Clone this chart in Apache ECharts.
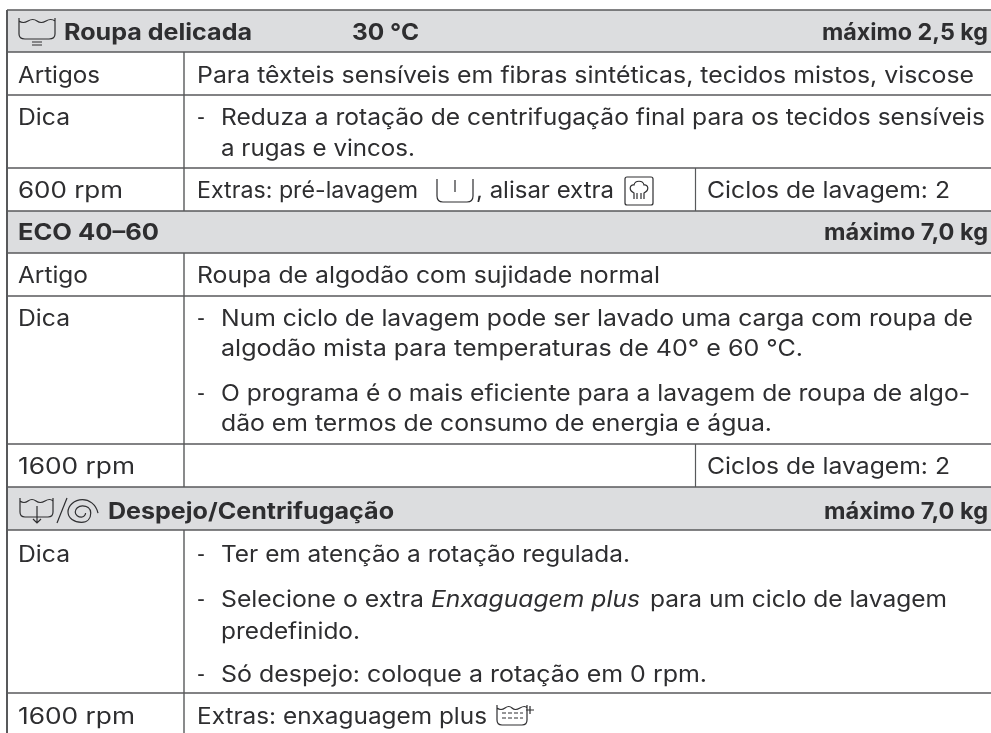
<!DOCTYPE html>
<html>
<head>
<meta charset="utf-8">
<style>html,body{margin:0;padding:0;background:#fff}#chart{width:991px;height:733px}</style>
<script src="https://cdn.jsdelivr.net/npm/echarts@6/dist/echarts.min.js"></script>
</head>
<body>
<div id="chart"></div>
<script>
// table content
var sectionTitles = ['Roupa delicada', 'ECO 40–60', 'Despejo/Centrifugação'];
var sectionTemps = ['30 °C', '', ''];
var sectionLoads = ['máximo 2,5 kg', 'máximo 7,0 kg', 'máximo 7,0 kg'];
var rowLabels = ['Artigos', 'Dica', '600 rpm', 'Artigo', 'Dica', '1600 rpm', 'Dica', '1600 rpm'];
var wideCells = [
  'Para têxteis sensíveis em fibras sintéticas, tecidos mistos, viscose',
  'Roupa de algodão com sujidade normal'
];
var extrasCells = ['Extras: pré-lavagem', ', alisar extra', 'Extras: enxaguagem plus'];
var cycleCells = ['Ciclos de lavagem: 2', 'Ciclos de lavagem: 2'];
var tipLines = [
  'Reduza a rotação de centrifugação final para os tecidos sensíveis',
  'a rugas e vincos.',
  'Num ciclo de lavagem pode ser lavado uma carga com roupa de',
  'algodão mista para temperaturas de 40° e 60 °C.',
  'O programa é o mais eficiente para a lavagem de roupa de algo-',
  'dão em termos de consumo de energia e água.',
  'Ter em atenção a rotação regulada.',
  'predefinido.',
  'Só despejo: coloque a rotação em 0 rpm.'
];
var mixedTip = ['Selecione o extra', 'Enxaguagem plus', 'para um ciclo de lavagem'];

// layout
var rowEdges = [10, 52, 95, 168, 211, 253, 296, 444, 487, 530, 693, 733];
var colEdges = [7, 184, 695.5, 991];
var sectionRows = [0, 4, 8];
var labelY = [76, 118, 191, 276, 319, 467, 555, 717];
var labelW = [82, 52, 105, 70, 52, 117, 52, 117];
var tipY = [118, 149, 319, 349, 394, 424, 555, 632, 675];
var tipW = [764, 194, 752, 582, 749, 551, 409, 139, 486];

var FONT = 'Inter';
var SIZE = 22.5;
var INK = '#2e2e30';
var RULE = '#58595b';
var BAND = '#dcdddf';

var chart = echarts.init(document.getElementById('chart'));
var ruler = document.createElement('canvas').getContext('2d');

function txt(p, s, x, y, w, o) {
  o = o || {};
  var at = p(x, y);
  var font = (o.italic ? 'italic ' : '') + (o.bold ? 'bold ' : '') + SIZE + 'px ' + FONT;
  ruler.font = font;
  return {
    type: 'text',
    x: at[0],
    y: at[1],
    scaleX: w / ruler.measureText(s).width,
    style: {
      text: s, x: 0, y: 0, fill: INK, font: font,
      textAlign: o.right ? 'right' : 'left', textVerticalAlign: 'middle'
    }
  };
}

function rule(p, x1, y1, x2, y2, w) {
  var a = p(x1, y1), b = p(x2, y2);
  return { type: 'line', shape: { x1: a[0], y1: a[1], x2: b[0], y2: b[1] }, style: { stroke: RULE, lineWidth: w } };
}

function icon(p, d, x, y, w, h) {
  var a = p(x, y);
  return {
    type: 'path',
    shape: { pathData: d, x: a[0], y: a[1], width: w, height: h, layout: 'center' },
    style: { fill: 'none', stroke: INK, lineWidth: 1.2 }
  };
}

function renderTable(params, api) {
  var p = function (x, y) { return api.coord([x, y]); };
  var kids = [];
  var r = rowEdges;
  var c = colEdges;
  sectionRows.forEach(function (i) {
    var a = p(c[0], r[i]), b = p(c[3], r[i + 1]);
    kids.push({ type: 'rect', shape: { x: a[0], y: a[1], width: b[0] - a[0], height: b[1] - a[1] }, style: { fill: BAND } });
  });
  r.forEach(function (y, i) {
    if (i < r.length - 1) kids.push(rule(p, c[0], y, c[3], y, 1.6));
  });
  kids.push(rule(p, c[0], r[0], c[0], r[11], 2));
  [[1, 2], [2, 3], [3, 4], [5, 6], [6, 7], [7, 8], [9, 10], [10, 11]].forEach(function (s) {
    kids.push(rule(p, c[1], r[s[0]], c[1], r[s[1]], 1.4));
  });
  kids.push(rule(p, c[2], r[3], c[2], r[4], 1.2));
  kids.push(rule(p, c[2], r[7], c[2], r[8], 1.2));

  // section bands
  kids.push(txt(p, sectionTitles[0], 64, 33, 188, { bold: true }));
  kids.push(txt(p, sectionTemps[0], 352, 33, 67, { bold: true }));
  kids.push(txt(p, sectionTitles[1], 18, 233, 141, { bold: true }));
  kids.push(txt(p, sectionTitles[2], 108, 512, 286, { bold: true }));
  kids.push(txt(p, sectionLoads[0], 988, 33, 166, { bold: true, right: true }));
  kids.push(txt(p, sectionLoads[1], 988, 233, 164, { bold: true, right: true }));
  kids.push(txt(p, sectionLoads[2], 988, 512, 164, { bold: true, right: true }));

  // first column
  labelY.forEach(function (y, i) {
    kids.push(txt(p, rowLabels[i], 18, y, labelW[i]));
  });

  // second column
  kids.push(txt(p, wideCells[0], 197, 76, 777));
  kids.push(txt(p, wideCells[1], 197, 276, 463));
  kids.push(txt(p, extrasCells[0], 197, 191, 221));
  kids.push(txt(p, extrasCells[1], 476, 191, 138));
  kids.push(txt(p, extrasCells[2], 197, 717, 290));
  kids.push(txt(p, cycleCells[0], 707, 191, 243));
  kids.push(txt(p, cycleCells[1], 707, 467, 243));

  [118, 319, 394, 555, 600, 675].forEach(function (y) {
    kids.push(txt(p, '-', 197, y, 8));
  });
  tipY.forEach(function (y, i) {
    kids.push(txt(p, tipLines[i], 221, y, tipW[i]));
  });
  kids.push(txt(p, mixedTip[0], 221, 600, 203));
  kids.push(txt(p, mixedTip[1], 431, 600, 209, { italic: true }));
  kids.push(txt(p, mixedTip[2], 650, 600, 297));

  // programme symbols
  kids.push(icon(p, 'M0 0V16Q0 21 6 21H30Q36 21 36 16V0M0 3Q4 6 9 3T18 3T27 3T36 3M13 24H23M13 27H23', 19, 18, 36, 27));
  kids.push(icon(p, 'M0 0V14Q0 19 5 19H28Q33 19 33 14V0M0 3Q4 6 8 3T16 3T25 3T33 3M17 8V25M13 21L17 25L21 21', 20, 498, 33, 25));
  kids.push(icon(p, 'M10 0L0 25', 57, 498, 10, 25));
  kids.push(icon(p, 'M30 15C28 6 21 2 15 2C7 2 1 8 1 14C1 20 7 24 14 24C20 24 23 20 23 15C23 10 19 8 15 8C11 8 8 11 8 14C8 17 11 19 14 19C16 19 18 17 18 15', 68, 499, 30, 24));
  kids.push(icon(p, 'M0 0V17Q0 23 6 23H30Q36 23 36 17V0M18 1V13', 437, 179, 36, 23));
  kids.push(icon(p, 'M2 0H26Q28 0 28 2V26Q28 28 26 28H2Q0 28 0 26V2Q0 0 2 0ZM9 22V16C3 13 5 7 9 8C10 3 18 3 19 8C23 7 25 13 19 16V22M12 22V16M16 22V16', 625, 177, 28, 28));
  kids.push(icon(p, 'M0 0V15Q0 20 5 20H25Q30 20 30 15V0M0 3Q4 6 8 3T15 3T23 3T30 3M5 8H9M11 8H15M17 8H21M23 8H26M5 13H9M11 13H15M17 13H21M23 13H26', 497, 705, 30, 20));
  kids.push(icon(p, 'M4 0V8M0 4H8', 526, 706, 8, 8));

  return { type: 'group', children: kids };
}

var option = {
  animation: false,
  grid: { left: 0, right: 0, top: 0, bottom: 0 },
  xAxis: { type: 'value', min: 0, max: 991, show: false },
  yAxis: { type: 'value', min: 0, max: 733, inverse: true, show: false },
  series: [{
    type: 'custom',
    coordinateSystem: 'cartesian2d',
    renderItem: renderTable,
    data: [[0, 0]],
    silent: true,
    clip: false
  }]
};
chart.setOption(option);
</script>
</body>
</html>
